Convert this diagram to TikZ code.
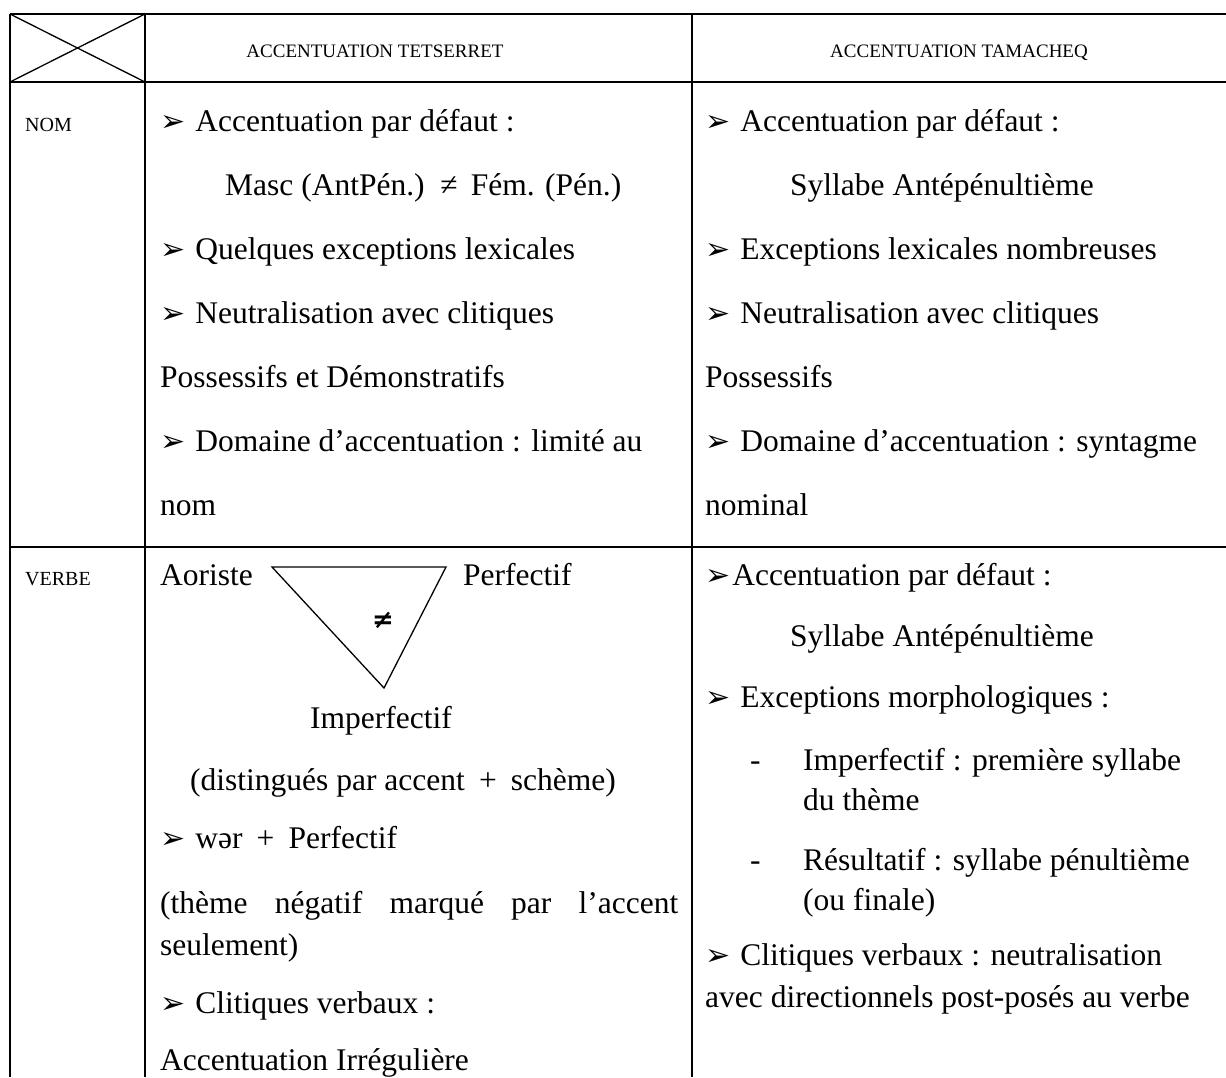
\documentclass[tikz,border=0pt]{standalone}
\usepackage{fontspec}
\setmainfont{Liberation Serif}
\newfontfamily\symfont{DejaVu Sans}
\newcommand{\arr}{{\symfont\fontsize{30}{30}\selectfont ➢}}
\newcommand{\plussp}{\hspace{0.45em}+\hspace{0.45em}}
\tikzset{
  txt/.style={anchor=base west, inner sep=0pt, font=\fontsize{31.5}{36}\selectfont},
  hdr/.style={anchor=base, inner sep=0pt, font=\fontsize{19}{22}\selectfont},
  lbl/.style={anchor=base west, inner sep=0pt, font=\fontsize{20}{22}\selectfont},
  neq/.style={anchor=center, inner sep=0pt, font=\symfont\bfseries\fontsize{26}{26}\selectfont},
  rulel/.style={line width=2pt},
  tril/.style={line width=1.3pt}
}
\begin{document}
\begin{tikzpicture}[x=1pt,y=-1pt]
\useasboundingbox (0,0) rectangle (1226,1077);
\fill[white] (0,0) rectangle (1226,1077);
% grid
\draw[rulel] (10,14) -- (1226,14);
\draw[rulel] (10,82) -- (1226,82);
\draw[rulel] (10,547) -- (1226,547);
\draw[rulel] (10,14) -- (10,1077);
\draw[rulel] (145,14) -- (145,1077);
\draw[rulel] (692,14) -- (692,1077);
\draw[tril] (10,14) -- (145,82) (10,82) -- (145,14);
% headers
\node[hdr] (h1) at (375,57) {ACCENTUATION TETSERRET};
\node[hdr] (h2) at (959,57) {ACCENTUATION TAMACHEQ};
\node[lbl] (nom) at (25,131) {NOM};
\node[lbl] (verbe) at (25,585) {VERBE};
% NOM, Tetserret
\node[txt] (a1) at (160,131) {\arr\hspace{10pt}Accentuation par défaut :};
\node[txt] (a2) at (225,195) {Masc (AntPén.) \,≠\, Fém. (Pén.)};
\node[txt] (a3) at (160,259) {\arr\hspace{10pt}Quelques exceptions lexicales};
\node[txt] (a4) at (160,323) {\arr\hspace{10pt}Neutralisation avec clitiques};
\node[txt] (a5) at (160,387) {Possessifs et Démonstratifs};
\node[txt] (a6) at (160,451) {\arr\hspace{10pt}Domaine d’accentuation : limité au};
\node[txt] (a7) at (160,515) {nom};
% NOM, Tamacheq
\node[txt] (b1) at (705,131) {\arr\hspace{10pt}Accentuation par défaut :};
\node[txt] (b2) at (790,195) {Syllabe Antépénultième};
\node[txt] (b3) at (705,259) {\arr\hspace{10pt}Exceptions lexicales nombreuses};
\node[txt] (b4) at (705,323) {\arr\hspace{10pt}Neutralisation avec clitiques};
\node[txt] (b5) at (705,387) {Possessifs};
\node[txt] (b6) at (705,451) {\arr\hspace{10pt}Domaine d’accentuation : syntagme};
\node[txt] (b7) at (705,515) {nominal};
% VERBE, Tetserret
\node[txt] (c1) at (160,585) {Aoriste};
\node[txt] (c2) at (463,585) {Perfectif};
\coordinate (tl) at (272,567);
\coordinate (tr) at (446,567);
\coordinate (ap) at (384,688);
\draw[tril] (tl) -- (tr) -- (ap) -- cycle;
\node[neq] (ne) at (383,620) {≠};
\node[txt] (c3) at (310,728) {Imperfectif};
\node[txt] (c4) at (190,790) {(distingués par accent\plussp schème)};
\node[txt] (c5) at (160,848) {\arr\hspace{10pt}wər\plussp Perfectif};
\node[txt] (c6) at (160,913) {\makebox[518pt][s]{(thème négatif marqué par l’accent}};
\node[txt] (c7) at (160,955) {seulement)};
\node[txt] (c8) at (160,1013) {\arr\hspace{10pt}Clitiques verbaux :};
\node[txt] (c9) at (160,1070) {Accentuation Irrégulière};
% VERBE, Tamacheq
\node[txt] (d1) at (705,585) {\arr\hspace{2pt}Accentuation par défaut :};
\node[txt] (d2) at (790,646) {Syllabe Antépénultième};
\node[txt] (d3) at (705,707) {\arr\hspace{10pt}Exceptions morphologiques :};
\node[txt] (d4a) at (750,770) {-};
\node[txt] (d4) at (803,770) {Imperfectif : première syllabe};
\node[txt] (d5) at (803,810) {du thème};
\node[txt] (d6a) at (750,870) {-};
\node[txt] (d6) at (803,870) {Résultatif : syllabe pénultième};
\node[txt] (d7) at (803,910) {(ou finale)};
\node[txt] (d8) at (705,965) {\arr\hspace{10pt}Clitiques verbaux : neutralisation};
\node[txt] (d9) at (705,1007) {avec directionnels post-posés au verbe};
\end{tikzpicture}
\end{document}
